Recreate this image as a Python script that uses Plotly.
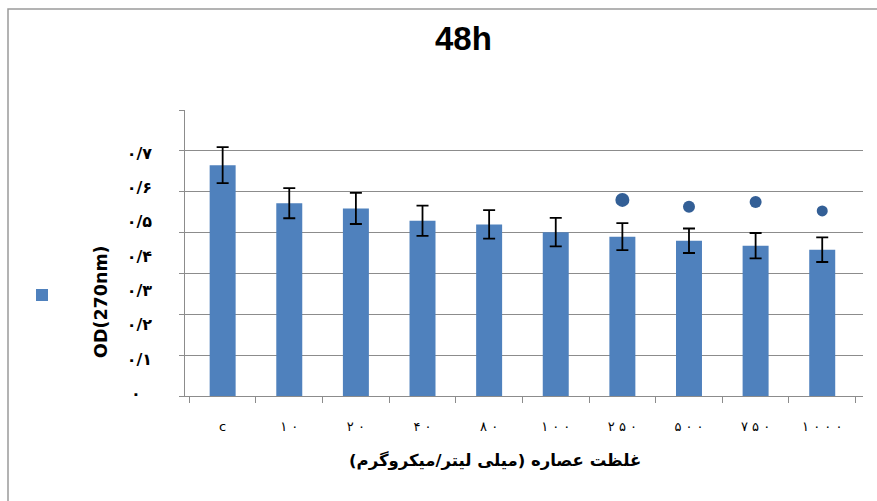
import plotly.graph_objects as go

# ---- data ----
categories = ["c", "۱۰", "۲۰", "۴۰", "۸۰", "۱۰۰", "۲۵۰", "۵۰۰", "۷۵۰", "۱۰۰۰"]
od_values = [0.565, 0.472, 0.459, 0.429, 0.420, 0.401, 0.390, 0.380, 0.368, 0.358]
od_errors = [0.044, 0.037, 0.038, 0.037, 0.035, 0.035, 0.033, 0.030, 0.031, 0.030]
sig_categories = ["۲۵۰", "۵۰۰", "۷۵۰", "۱۰۰۰"]
sig_values = [0.480, 0.463, 0.475, 0.453]
ytick_values = [0, 0.1, 0.2, 0.3, 0.4, 0.5, 0.6, 0.7]
ytick_labels = ["۰", "۰/۱", "۰/۲", "۰/۳", "۰/۴", "۰/۵", "۰/۶", "۰/۷"]
title_text = "48h"
x_title = "غلظت عصاره (میلی لیتر/میکروگرم)"
y_title = "OD(270nm)"

W, H = 877, 501
L, R, T, B = 185, 14, 110, 105
pw, ph = W - L - R, H - T - B

FONT = "Liberation Sans, DejaVu Sans, sans-serif"
BAR = "#4F81BD"
GRID = "#8C8C8C"

def px_x(p):
    return (p - L) / pw

def px_y(p):
    return (H - B - p) / ph

fig = go.Figure()
fig.add_trace(go.Bar(
    x=categories, y=od_values, name=" ",
    marker=dict(color=BAR, line=dict(width=0)),
    width=0.39,
    error_y=dict(type="data", array=od_errors, color="black", thickness=1.8, width=6),
    showlegend=True,
))
fig.add_trace(go.Scatter(
    x=sig_categories, y=sig_values, mode="markers",
    marker=dict(symbol="circle", size=[14, 12, 12, 11], color="#335F96", opacity=1,
                line=dict(width=0)),
    showlegend=False, hoverinfo="skip",
))
# invisible trace to carry the label axis
fig.add_trace(go.Scatter(x=[categories[0]], y=[None], yaxis="y2", mode="markers",
                         showlegend=False, hoverinfo="skip"))

x_ticktext = [" ".join(list(c)) if len(c) > 1 else c for c in categories]
y_ticktext = ["<b>" + (t if len(t) > 1 else t + "\u00a0\u00a0") + "</b>" for t in ytick_labels]

fig.update_layout(
    width=W, height=H,
    margin=dict(l=L, r=R, t=T, b=B, pad=0),
    paper_bgcolor="white", plot_bgcolor="white",
    font=dict(family=FONT, color="black"),
    bargap=0.6,
    xaxis=dict(
        type="category", categoryorder="array", categoryarray=categories,
        tickmode="array", tickvals=categories, ticktext=x_ticktext,
        showline=True, linecolor=GRID, linewidth=1,
        ticks="outside", tickson="boundaries", ticklen=6, tickcolor=GRID,
        showgrid=False, tickfont=dict(size=13, color="black", family="DejaVu Sans"),
        ticklabelstandoff=18,
    ),
    yaxis=dict(
        range=[0, 0.7], tickmode="linear", tick0=0, dtick=0.1,
        showgrid=True, gridcolor=GRID, gridwidth=1,
        showline=True, linecolor=GRID, linewidth=1,
        ticks="outside", ticklen=5, tickcolor=GRID,
        showticklabels=False, zeroline=False,
    ),
    yaxis2=dict(
        overlaying="y", side="left",
        range=[-0.0079, 0.8253],
        tickmode="array", tickvals=ytick_values, ticktext=y_ticktext,
        showgrid=False, zeroline=False, showline=False, ticks="",
        tickfont=dict(size=16, color="black", family="DejaVu Sans"),
        ticklabelstandoff=32,
    ),
    legend=dict(x=px_x(22), y=px_y(295), xanchor="left", yanchor="middle",
                bgcolor="rgba(0,0,0,0)", font=dict(size=12)),
    showlegend=True,
    annotations=[
        dict(text="<b>" + title_text + "</b>", x=px_x(463), y=px_y(39), xref="paper", yref="paper",
             showarrow=False, font=dict(size=33, family=FONT, color="black"),
             xanchor="center", yanchor="middle"),
        dict(text="<b>" + y_title + "</b>", x=px_x(101), y=px_y(302), xref="paper", yref="paper",
             showarrow=False, textangle=-90, font=dict(size=17.5, family="DejaVu Sans", color="black"),
             xanchor="center", yanchor="middle"),
        dict(text="<b>" + x_title + "</b>", x=px_x(495), y=px_y(460), xref="paper", yref="paper",
             showarrow=False, font=dict(size=16.5, family="DejaVu Sans", color="black"),
             xanchor="center", yanchor="middle"),
    ],
    shapes=[
        dict(type="rect", xref="paper", yref="paper",
             x0=px_x(8), y0=px_y(520), x1=px_x(900), y1=px_y(9),
             line=dict(color="#9A9A9A", width=1.5), fillcolor="rgba(0,0,0,0)", layer="below"),
    ],
)

fig.write_html("out.html")
